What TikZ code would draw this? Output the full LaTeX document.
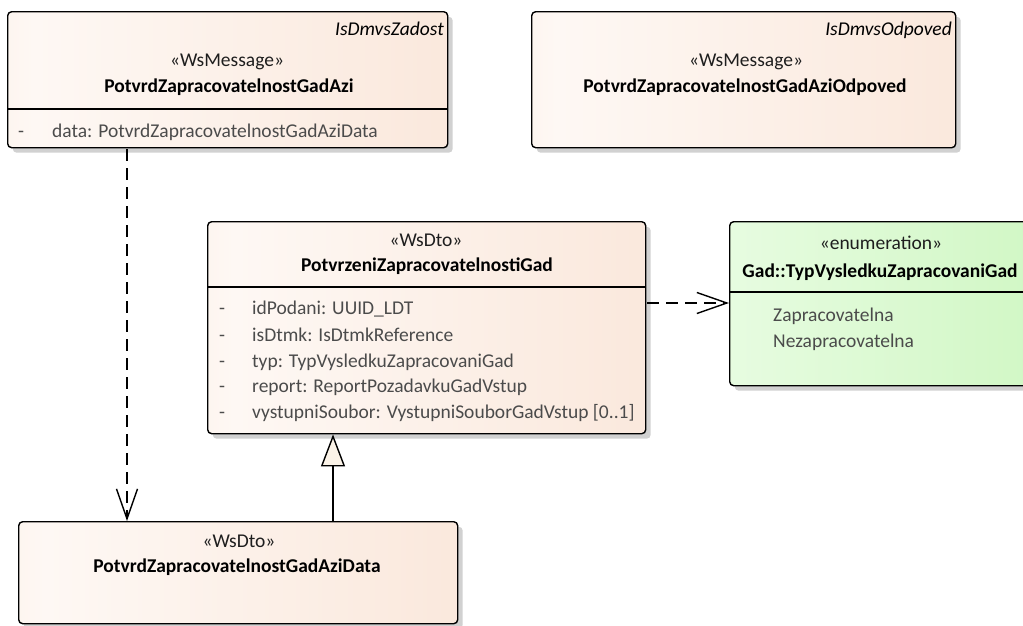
\documentclass[tikz,border=0pt]{standalone}
\usepackage{fontspec}
\setmainfont{Carlito}
\usetikzlibrary{arrows.meta,shadows}
\definecolor{pch}{RGB}{248,224,208}
\definecolor{pchw}{RGB}{254,248,244}
\definecolor{grn}{RGB}{198,245,183}
\definecolor{grnw}{RGB}{232,252,226}
\definecolor{tricol}{RGB}{251,243,232}
\definecolor{attrcol}{RGB}{75,75,75}
\definecolor{stcol}{RGB}{30,30,30}
\pgfdeclarehorizontalshading{peachshade}{100bp}{color(0bp)=(pch); color(28bp)=(pchw); color(100bp)=(pch)}
\pgfdeclarehorizontalshading{greenshade}{100bp}{color(0bp)=(grnw!70!grn); color(22bp)=(grnw); color(100bp)=(grn)}
\begin{document}
\begin{tikzpicture}[x=1pt,y=-1pt,
  umlbox/.style={draw=black, line width=1.4pt, rounded corners=4pt, anchor=north west, inner sep=0pt,
    drop shadow={shadow xshift=5pt, shadow yshift=-5pt, fill=black!18, opacity=1}},
  pbox/.style={umlbox, shading=peachshade},
  gbox/.style={umlbox, shading=greenshade},
  sepline/.style={draw=black, line width=1.4pt},
  txt/.style={inner sep=0pt, text height=13pt, text depth=4pt, font=\fontsize{19.5}{22}\selectfont},
  stereo/.style={txt, text=stcol},
  cname/.style={txt, font=\fontsize{19.5}{22}\selectfont\bfseries},
  tag/.style={txt, anchor=east, font=\fontsize{19.5}{22}\selectfont\itshape},
  attr/.style={txt, anchor=west, text=attrcol},
  dep/.style={draw=black, line width=1.4pt, dash pattern=on 12pt off 7pt, -{Straight Barb[length=30pt,width=21pt,line width=1.4pt]}},
  gen/.style={draw=black, line width=1.4pt, -{Triangle[length=32pt,width=24pt,fill=tricol,line width=1.4pt]}}
]
\clip (0,0) rectangle (1023,625);
\fill[white] (0,0) rectangle (1023,625);

% boxes
\node[pbox, minimum width=440pt, minimum height=136pt] (zadost) at (7,11) {};
\node[pbox, minimum width=424pt, minimum height=136pt] (odpoved) at (531,11) {};
\node[pbox, minimum width=438pt, minimum height=212pt] (gad) at (207,221) {};
\node[gbox, minimum width=310pt, minimum height=164pt] (enum) at (729,221) {};
\node[pbox, minimum width=439pt, minimum height=102pt] (data) at (18,521) {};

% compartment lines
\draw[sepline] (7,109) -- (447,109);
\draw[sepline] (207,287) -- (645,287);
\draw[sepline] (729,292) -- (1039,292);

% box 1 texts
\node[tag] (t1) at (444,31) {IsDmvsZadost};
\node[stereo] (s1) at (227,62) {«WsMessage»};
\node[cname] (n1) at (229,88) {PotvrdZapracovatelnostGadAzi};
\node[attr] (v1a) at (18,133) {-};
\node[attr] (a1a) at (52,133) {data: PotvrdZapracovatelnostGadAziData};

% box 2 texts
\node[tag] (t2) at (952,31) {IsDmvsOdpoved};
\node[stereo] (s2) at (746,62) {«WsMessage»};
\node[cname] (n2) at (745,88) {PotvrdZapracovatelnostGadAziOdpoved};

% box 3 texts
\node[stereo] (s3) at (426,242) {«WsDto»};
\node[cname] (n3) at (427,267) {PotvrzeniZapracovatelnostiGad};
\node[attr] (v3a) at (219,310) {-};
\node[attr] (v3b) at (219,337) {-};
\node[attr] (v3c) at (219,363) {-};
\node[attr] (v3d) at (219,388) {-};
\node[attr] (v3e) at (219,414) {-};
\node[attr] (a3a) at (252,310) {idPodani: UUID\_LDT};
\node[attr] (a3b) at (252,337) {isDtmk: IsDtmkReference};
\node[attr] (a3c) at (252,363) {typ: TypVysledkuZapracovaniGad};
\node[attr] (a3d) at (252,388) {report: ReportPozadavkuGadVstup};
\node[attr] (a3e) at (252,414) {vystupniSoubor: VystupniSouborGadVstup [0..1]};

% enum texts
\node[stereo] (s4) at (881,245) {«enumeration»};
\node[cname] (n4) at (880,273) {Gad::TypVysledkuZapracovaniGad};
\node[attr] (a4a) at (773,317) {Zapracovatelna};
\node[attr] (a4b) at (773,343) {Nezapracovatelna};

% box 5 texts
\node[stereo] (s5) at (239,543) {«WsDto»};
\node[cname] (n5) at (237,568) {PotvrdZapracovatelnostGadAziData};

% connectors
\draw[dep] ([xshift=120pt,yshift=-1pt]zadost.south west) -- ([xshift=109pt]data.north west);
\draw[gen] ([xshift=315pt]data.north west) -- ([xshift=126pt]gad.south west);
\draw[dep] ([xshift=1pt,yshift=-82pt]gad.north east) -- ([yshift=-82pt]enum.north west);
\end{tikzpicture}
\end{document}
